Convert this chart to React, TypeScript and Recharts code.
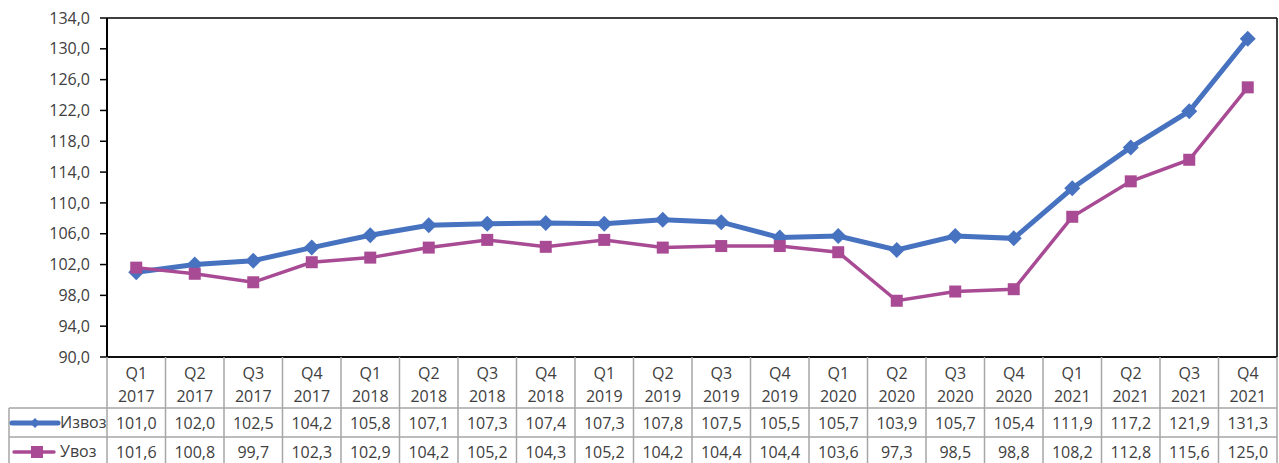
import { LineChart, Line, XAxis, YAxis, CartesianGrid } from 'recharts';

const QUARTERS = ['Q1', 'Q2', 'Q3', 'Q4', 'Q1', 'Q2', 'Q3', 'Q4', 'Q1', 'Q2', 'Q3', 'Q4', 'Q1', 'Q2', 'Q3', 'Q4', 'Q1', 'Q2', 'Q3', 'Q4'];
const YEARS = ['2017', '2017', '2017', '2017', '2018', '2018', '2018', '2018', '2019', '2019', '2019', '2019', '2020', '2020', '2020', '2020', '2021', '2021', '2021', '2021'];
const EXPORTS = [101.0, 102.0, 102.5, 104.2, 105.8, 107.1, 107.3, 107.4, 107.3, 107.8, 107.5, 105.5, 105.7, 103.9, 105.7, 105.4, 111.9, 117.2, 121.9, 131.3];
const IMPORTS = [101.6, 100.8, 99.7, 102.3, 102.9, 104.2, 105.2, 104.3, 105.2, 104.2, 104.4, 104.4, 103.6, 97.3, 98.5, 98.8, 108.2, 112.8, 115.6, 125.0];
const Y_TICKS = [90, 94, 98, 102, 106, 110, 114, 118, 122, 126, 130, 134];

const EXPORT_NAME = 'Извоз';
const IMPORT_NAME = 'Увоз';
const BLUE = '#4672C0';
const PURPLE = '#A84B94';
const TEXT = '#404040';
const TABLE_LINE = '#A6A6A6';
const FONT = '"Open Sans", "Noto Sans", sans-serif';
const FS = 16;

const W = 1279;
const H = 463;
const LEFT = 107;
const RIGHT = 2;
const COL = (W - LEFT - RIGHT) / QUARTERS.length;

const fmt = (v: number) => v.toFixed(1).replace('.', ',');

const data = QUARTERS.map((q, i) => ({
  key: `${q} ${YEARS[i]}`,
  exp: EXPORTS[i],
  imp: IMPORTS[i],
}));

function Diamond({ cx, cy }: any) {
  if (cx == null || cy == null) return null;
  const r = 8;
  return <path d={`M${cx},${cy - r}L${cx + r},${cy}L${cx},${cy + r}L${cx - r},${cy}Z`} fill={BLUE} />;
}

function Square({ cx, cy }: any) {
  if (cx == null || cy == null) return null;
  const r = 6;
  return <rect x={cx - r} y={cy - r} width={r * 2} height={r * 2} fill={PURPLE} />;
}

// each x tick draws one column of the data table under the plot
function TableColumn({ x, y, index }: any) {
  const left = x - COL / 2;
  const right = x + COL / 2;
  const row1 = y + 51;
  const row2 = y + 80;
  const bottom = y + 120;
  const txt = { fontFamily: FONT, fontSize: FS, fill: TEXT, textAnchor: 'middle' as const };
  return (
    <g>
      {index === 0 && (
        <g>
          <line x1={left} y1={y} x2={left} y2={bottom} stroke={TABLE_LINE} strokeWidth={1.5} />
          <line x1={9} y1={row1} x2={left} y2={row1} stroke={TABLE_LINE} strokeWidth={1.5} />
          <line x1={9} y1={row2} x2={left} y2={row2} stroke={TABLE_LINE} strokeWidth={1.5} />
          <line x1={9} y1={row1} x2={9} y2={bottom} stroke={TABLE_LINE} strokeWidth={1.5} />
          <line x1={12} y1={row1 + 15} x2={58} y2={row1 + 15} stroke={BLUE} strokeWidth={5} strokeLinecap="round" />
          <path d={`M35,${row1 + 10}L40,${row1 + 15}L35,${row1 + 20}L30,${row1 + 15}Z`} fill={BLUE} />
          <text x={60} y={row1 + 20} fontFamily={FONT} fontSize={FS} fill={TEXT}>{EXPORT_NAME}</text>
          <line x1={14} y1={row2 + 15} x2={54} y2={row2 + 15} stroke={PURPLE} strokeWidth={3.5} strokeLinecap="round" />
          <rect x={31} y={row2 + 9} width={12} height={12} fill={PURPLE} />
          <text x={60} y={row2 + 20} fontFamily={FONT} fontSize={FS} fill={TEXT}>{IMPORT_NAME}</text>
        </g>
      )}
      <line x1={right} y1={y} x2={right} y2={bottom} stroke={TABLE_LINE} strokeWidth={1.5} />
      <line x1={left} y1={row1} x2={right} y2={row1} stroke={TABLE_LINE} strokeWidth={1.5} />
      <line x1={left} y1={row2} x2={right} y2={row2} stroke={TABLE_LINE} strokeWidth={1.5} />
      <text x={x} y={y + 22} {...txt}>{QUARTERS[index]}</text>
      <text x={x} y={y + 45} {...txt}>{YEARS[index]}</text>
      <text x={x} y={row1 + 21} {...txt}>{fmt(EXPORTS[index])}</text>
      <text x={x} y={row2 + 21} {...txt}>{fmt(IMPORTS[index])}</text>
    </g>
  );
}

export default function App() {
  return (
    <div style={{ position: 'absolute', left: 0, top: 0, width: W, height: H, background: '#fff' }}>
      <LineChart width={W} height={H} data={data} margin={{ top: 18, right: 0, bottom: 0, left: 0 }}>
        <CartesianGrid vertical={false} stroke="#000" strokeWidth={1.5} />
        <XAxis
          dataKey="key"
          interval={0}
          height={106}
          padding={{ left: COL / 2, right: COL / 2 }}
          axisLine={{ stroke: '#000', strokeWidth: 1.5 }}
          tickLine={false}
          tickSize={0}
          tickMargin={0}
          tick={<TableColumn />}
        />
        <YAxis
          yAxisId="l"
          width={LEFT}
          domain={[90, 134]}
          ticks={Y_TICKS}
          interval={0}
          tickFormatter={fmt}
          tickSize={7}
          tickMargin={10}
          axisLine={{ stroke: '#000', strokeWidth: 2 }}
          tickLine={{ stroke: '#000', strokeWidth: 1.5 }}
          tick={{ fontFamily: FONT, fontSize: FS, fill: TEXT }}
        />
        <YAxis
          yAxisId="r"
          orientation="right"
          width={RIGHT}
          domain={[90, 134]}
          tick={false}
          tickLine={false}
          axisLine={{ stroke: '#000', strokeWidth: 1.5 }}
        />
        <Line yAxisId="l" type="linear" dataKey="exp" stroke={BLUE} strokeWidth={5} dot={<Diamond />} activeDot={false} isAnimationActive={false} />
        <Line yAxisId="l" type="linear" dataKey="imp" stroke={PURPLE} strokeWidth={3.5} dot={<Square />} activeDot={false} isAnimationActive={false} />
      </LineChart>
    </div>
  );
}
